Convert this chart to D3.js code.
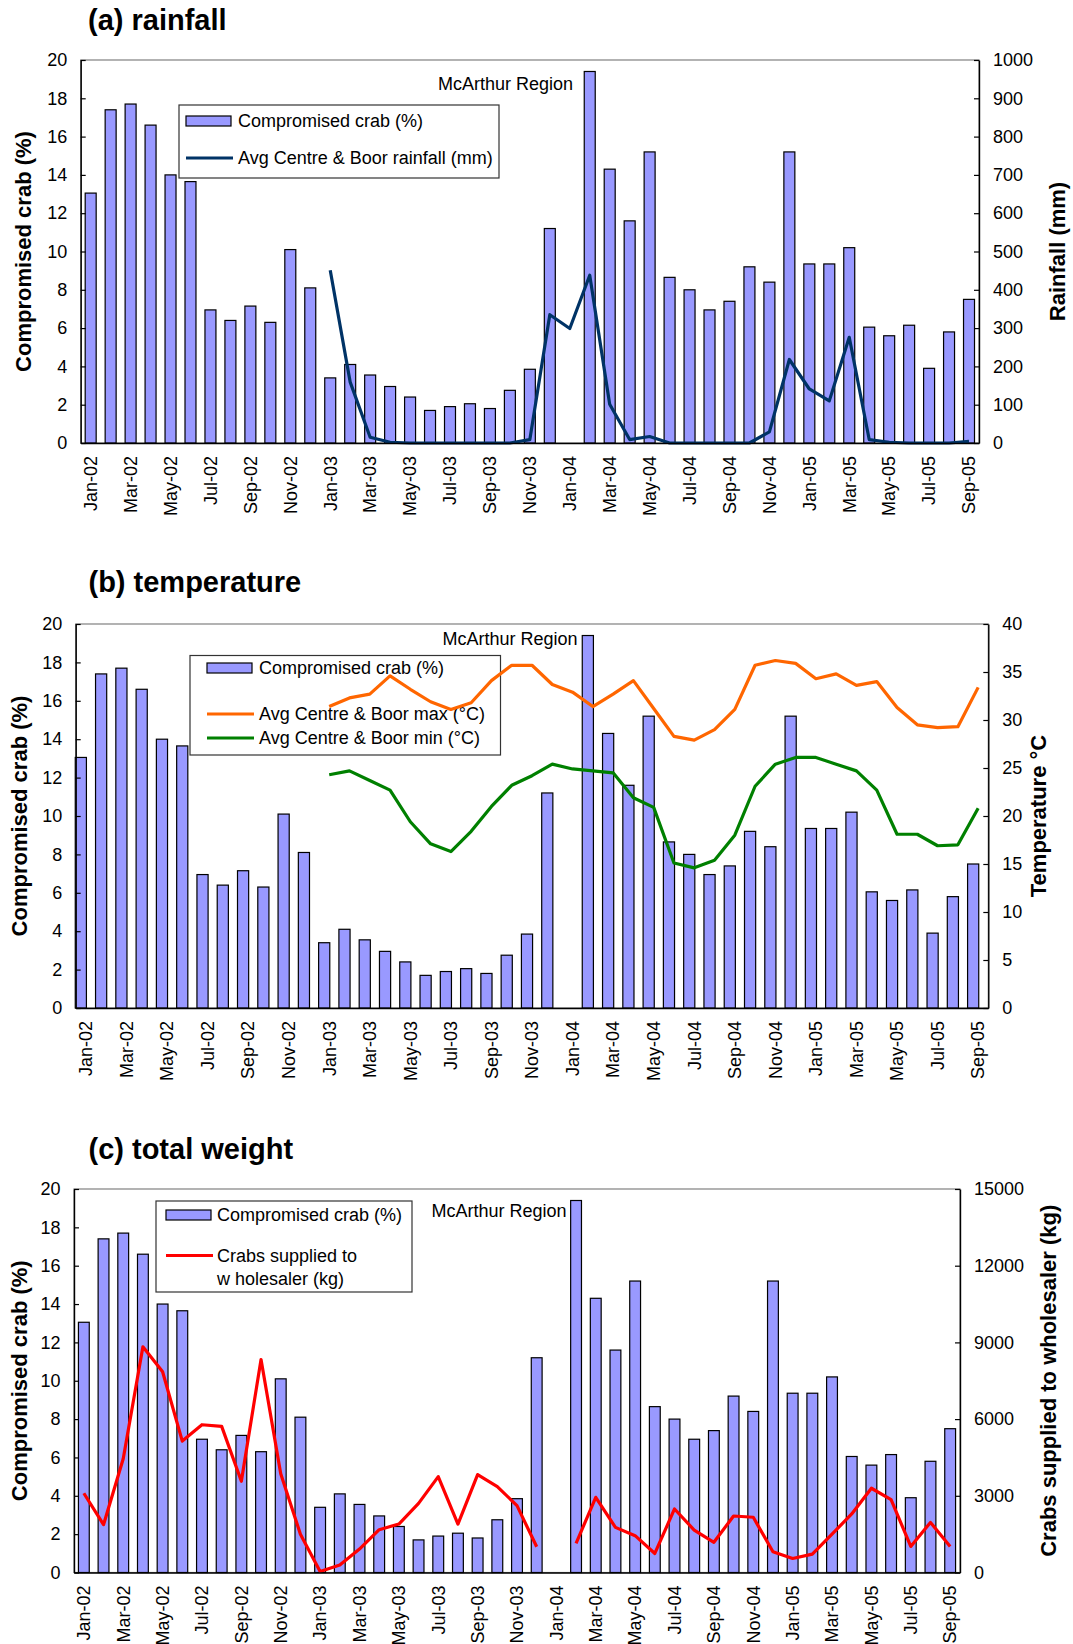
<!DOCTYPE html>
<html lang="en">
<head>
<meta charset="UTF-8">
<title>Compromised crab - McArthur Region</title>
<script src="https://d3js.org/d3.v7.min.js"></script>
<style>
  body { margin: 0; background: #fff; }
  svg { display: block; font-family: "Liberation Sans", Arial, sans-serif; }
</style>
</head>
<body>
<script>
// categories
const months = [
  "Jan-02","Feb-02","Mar-02","Apr-02","May-02","Jun-02","Jul-02","Aug-02","Sep-02","Oct-02","Nov-02","Dec-02",
  "Jan-03","Feb-03","Mar-03","Apr-03","May-03","Jun-03","Jul-03","Aug-03","Sep-03","Oct-03","Nov-03","Dec-03",
  "Jan-04","Feb-04","Mar-04","Apr-04","May-04","Jun-04","Jul-04","Aug-04","Sep-04","Oct-04","Nov-04","Dec-04",
  "Jan-05","Feb-05","Mar-05","Apr-05","May-05","Jun-05","Jul-05","Aug-05","Sep-05"
];

// compromised crab (%), no value for Jan-04
const crabPct = [
  13.05, 17.4, 17.7, 16.6, 14.0, 13.65, 6.95, 6.4, 7.15, 6.3, 10.1, 8.1,
  3.4, 4.1, 3.55, 2.95, 2.4, 1.7, 1.9, 2.05, 1.8, 2.75, 3.85, 11.2,
  null, 19.4, 14.3, 11.6, 15.2, 8.65, 8.0, 6.95, 7.4, 9.2, 8.4, 15.2,
  9.35, 9.35, 10.2, 6.05, 5.6, 6.15, 3.9, 5.8, 7.5
];

// avg Centre & Boor rainfall (mm)
const rainfall = [
  null, null, null, null, null, null, null, null, null, null, null, null,
  451, 159, 15, 2, 0, 0, 0, 0, 0, 0, 9, 335,
  299, 438, 101, 9, 17, 0, 0, 0, 0, 0, 29, 218,
  141, 110, 276, 9, 2, 0, 0, 0, 4
];

// avg Centre & Boor max / min temperature (°C)
const tempMax = [
  null, null, null, null, null, null, null, null, null, null, null, null,
  31.4, 32.3, 32.7, 34.6, 33.2, 31.9, 31.1, 31.8, 34.1, 35.7, 35.7, 33.7,
  32.9, 31.4, 32.7, 34.1, 31.2, 28.3, 27.9, 29.0, 31.1, 35.7, 36.2, 35.9,
  34.3, 34.8, 33.6, 34.0, 31.3, 29.5, 29.2, 29.3, 33.4
];
const tempMin = [
  null, null, null, null, null, null, null, null, null, null, null, null,
  24.3, 24.7, 23.7, 22.7, 19.4, 17.1, 16.3, 18.4, 21.0, 23.2, 24.2, 25.4,
  24.9, 24.7, 24.5, 21.9, 20.9, 15.1, 14.6, 15.4, 18.0, 23.1, 25.4, 26.1,
  26.1, 25.4, 24.7, 22.7, 18.1, 18.1, 16.9, 17.0, 20.8
];

// crabs supplied to wholesaler (kg)
const wholesaleKg = [
  3100, 1870, 4450, 8830, 7850, 5140, 5780, 5715, 3570, 8330, 3860, 1500,
  40, 290, 915, 1675, 1895, 2705, 3750, 1895, 3830, 3360, 2615, 1005,
  null, 1140, 2940, 1765, 1440, 745, 2485, 1660, 1180, 2210, 2160, 810,
  550, 720, 1500, 2290, 3295, 2850, 1020, 1960, 1020
];

// tick labels
const crabTicks = [0, 2, 4, 6, 8, 10, 12, 14, 16, 18, 20];
const rainTicks = [0, 100, 200, 300, 400, 500, 600, 700, 800, 900, 1000];
const tempTicks = [0, 5, 10, 15, 20, 25, 30, 35, 40];
const kgTicks = [0, 3000, 6000, 9000, 12000, 15000];
const monthTicks = months.filter((d, i) => i % 2 === 0);

const width = 1073;
const height = 1644;
const barColor = "#9999ff";

const svg = d3.select("body").append("svg")
    .attr("width", width)
    .attr("height", height)
    .attr("viewBox", [0, 0, width, height]);

function drawPanel(p) {
  const g = svg.append("g");
  const b = p.box;

  const x = d3.scaleBand().domain(months).range([b.left, b.right]);
  const bw = x.bandwidth();
  const yL = d3.scaleLinear().domain([0, 20]).range([b.bottom, b.top]);
  const yR = d3.scaleLinear().domain(p.rightDomain).range([b.bottom, b.top]);

  // plot frame
  g.append("rect")
      .attr("x", b.left).attr("y", b.top)
      .attr("width", b.right - b.left).attr("height", b.bottom - b.top)
      .attr("fill", "none").attr("stroke", "#808080").attr("stroke-width", 1.2);

  // bars
  g.append("g")
    .selectAll("rect")
    .data(months.map((m, i) => ({m, v: crabPct[i]})).filter(d => d.v != null))
    .join("rect")
      .attr("x", d => x(d.m) + bw * 0.225 + (p.barShift || 0))
      .attr("width", bw * 0.55)
      .attr("y", d => yL(d.v))
      .attr("height", d => yL(0) - yL(d.v))
      .attr("fill", barColor)
      .attr("stroke", "#000")
      .attr("stroke-width", 1.2);

  // legend box sits under the lines (transparent, as in the original)
  const L = p.legend;
  g.append("rect")
      .attr("x", L.box[0]).attr("y", L.box[1])
      .attr("width", L.box[2]).attr("height", L.box[3])
      .attr("fill", "none").attr("stroke", "#333").attr("stroke-width", 1.2);
  g.append("rect")
      .attr("x", L.swatchX).attr("y", L.barY - 5)
      .attr("width", 45).attr("height", 10)
      .attr("fill", barColor).attr("stroke", "#000").attr("stroke-width", 1.2);
  g.append("text")
      .attr("x", L.textX).attr("y", L.barY)
      .attr("dy", "0.35em").attr("font-size", 18)
      .text("Compromised crab (%)");
  p.series.forEach((s, i) => {
    const yy = L.lineY[i];
    g.append("line")
        .attr("x1", L.swatchX).attr("x2", L.swatchX + 47)
        .attr("y1", yy).attr("y2", yy)
        .attr("stroke", s.color).attr("stroke-width", 3.2);
    s.label.forEach((t, j) => {
      g.append("text")
          .attr("x", L.textX).attr("y", yy + j * 23.5)
          .attr("dy", "0.35em").attr("font-size", 18)
          .text(t);
    });
  });

  // lines on the secondary axis
  for (const s of p.series) {
    const pts = months.map((m, i) => ({m, v: s.values[i]}));
    const line = d3.line()
        .defined(d => d.v != null)
        .x(d => x(d.m) + bw / 2)
        .y(d => yR(d.v));
    g.append("path")
        .attr("d", line(pts))
        .attr("fill", "none")
        .attr("stroke", s.color)
        .attr("stroke-width", 3.2)
        .attr("stroke-linejoin", "round");
  }

  // left axis
  const left = g.append("g")
      .attr("transform", `translate(${b.left},0)`)
      .call(d3.axisLeft(yL).tickValues(crabTicks).tickSizeInner(-5).tickSizeOuter(0).tickPadding(13.5));
  // right axis
  const right = g.append("g")
      .attr("transform", `translate(${b.right},0)`)
      .call(d3.axisRight(yR).tickValues(p.rightTicks).tickFormat(d3.format("d"))
        .tickSizeInner(-5).tickSizeOuter(0).tickPadding(14));
  // bottom axis
  const bottom = g.append("g")
      .attr("transform", `translate(0,${b.bottom})`)
      .call(d3.axisBottom(x).tickValues(monthTicks).tickSize(0).tickPadding(0));
  bottom.selectAll("text")
      .attr("transform", "rotate(-90)")
      .attr("text-anchor", "end")
      .attr("x", -13)
      .attr("y", 0)
      .attr("dy", "0.35em");

  for (const ax of [left, right, bottom]) {
    ax.attr("font-size", 18).attr("font-family", null);
    ax.select(".domain").attr("stroke", "#000").attr("stroke-width", 1.4);
    ax.selectAll(".tick line").attr("stroke", "#000").attr("stroke-width", 1.2);
    ax.selectAll("text").attr("fill", "#000");
  }

  // panel title
  g.append("text")
      .attr("x", p.titleX).attr("y", p.titleY)
      .attr("font-size", 29).attr("font-weight", "bold")
      .text(p.title);

  const midY = (b.top + b.bottom) / 2;
  g.append("text")
      .attr("transform", `translate(${p.leftTitleX},${midY}) rotate(-90)`)
      .attr("text-anchor", "middle").attr("dy", "0.35em")
      .attr("font-size", 22).attr("font-weight", "bold")
      .text("Compromised crab (%)");
  g.append("text")
      .attr("transform", `translate(${p.rightTitleX},${midY}) rotate(-90)`)
      .attr("text-anchor", "middle").attr("dy", "0.35em")
      .attr("font-size", 22).attr("font-weight", "bold")
      .text(p.rightTitle);

  g.append("text")
      .attr("x", p.region[0]).attr("y", p.region[1])
      .attr("dy", "0.35em").attr("font-size", 18)
      .text("McArthur Region");
}

drawPanel({
  title: "(a) rainfall", titleX: 88, titleY: 30,
  box: {left: 80.7, right: 979, top: 60, bottom: 443},
  rightDomain: [0, 1000], rightTicks: rainTicks,
  rightTitle: "Rainfall (mm)", leftTitleX: 23, rightTitleX: 1057,
  region: [438, 84],
  series: [{values: rainfall, color: "#003366", label: ["Avg Centre & Boor rainfall (mm)"]}],
  legend: {box: [179, 105, 320, 73], swatchX: 186, textX: 238, barY: 121, lineY: [158]}
});

drawPanel({
  title: "(b) temperature", titleX: 88.5, titleY: 592,
  box: {left: 75.7, right: 988.3, top: 624, bottom: 1008},
  barShift: -5,
  rightDomain: [0, 40], rightTicks: tempTicks,
  rightTitle: "Temperature °C", leftTitleX: 19.5, rightTitleX: 1038,
  region: [442.5, 639],
  series: [
    {values: tempMax, color: "#ff6600", label: ["Avg Centre & Boor max (°C)"]},
    {values: tempMin, color: "#008000", label: ["Avg Centre & Boor min (°C)"]}
  ],
  legend: {box: [190, 655.5, 310.5, 99.5], swatchX: 207, textX: 259, barY: 668, lineY: [714, 738]}
});

drawPanel({
  title: "(c) total weight", titleX: 88.5, titleY: 1159,
  box: {left: 74, right: 960, top: 1189, bottom: 1572.5},
  rightDomain: [0, 15000], rightTicks: kgTicks,
  rightTitle: "Crabs supplied to wholesaler (kg)", leftTitleX: 19.7, rightTitleX: 1048,
  region: [431.5, 1210.5],
  series: [{values: wholesaleKg, color: "#ff0000", label: ["Crabs supplied to", "w holesaler (kg)"]}],
  legend: {box: [156, 1201, 256, 91], swatchX: 166, textX: 217, barY: 1215, lineY: [1255.5]}
});
</script>
</body>
</html>
